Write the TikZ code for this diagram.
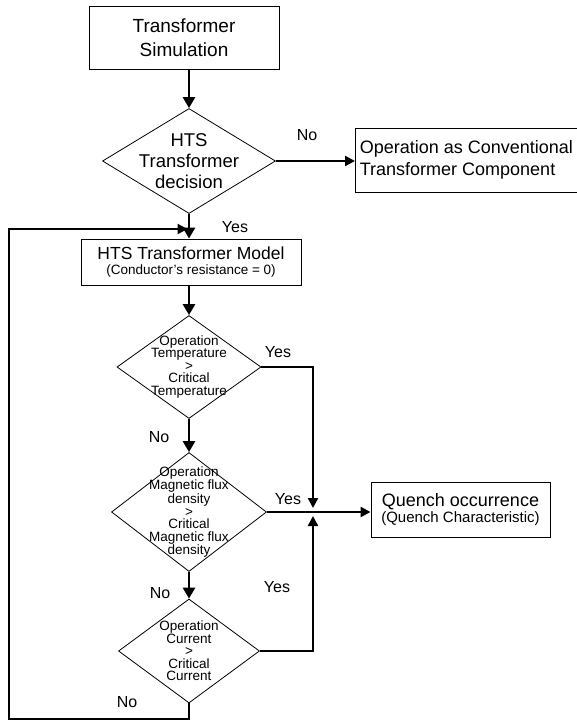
\documentclass[tikz,border=0pt]{standalone}
\usepackage{fontspec}
\setmainfont{Liberation Sans}
\usetikzlibrary{shapes.geometric,arrows.meta}

\begin{document}
\begin{tikzpicture}[x=1pt,y=-1pt,
    box/.style={draw, line width=0.9pt, inner sep=0pt, align=center},
    dia/.style={draw, diamond, line width=0.8pt, inner sep=0pt},
    big/.style={font=\fontsize{18}{22}\selectfont},
    small/.style={font=\fontsize{13.5}{12.5}\selectfont, align=center, inner sep=0pt},
    lbl/.style={font=\fontsize{16}{19}\selectfont, inner sep=0pt},
    arr/.style={line width=2.8pt, -{Triangle[length=11pt,width=12pt]}},
    lnk/.style={line width=2.3pt, -{Triangle[length=10pt,width=10pt]}}]
    \useasboundingbox (0,0) rectangle (577,726);
    % boxes
    \node[box, font=\fontsize{19}{24}\selectfont, minimum width=190pt, minimum height=63pt] (sim) at (184,37.5) {Transformer\\Simulation};
    \node[box, big, align=left, minimum width=222pt, minimum height=64pt, anchor=west] (conv) at (355,160) {Operation as Conventional\\Transformer Component};
    \node[box, minimum width=220pt, minimum height=46pt] (model) at (191,262)
        {\fontsize{17.5}{16}\selectfont HTS Transformer Model\\[3pt]\fontsize{13.5}{16}\selectfont (Conductor's resistance = 0)};
    \node[box, minimum width=179pt, minimum height=55pt] (quench) at (460.5,509.5)
        {\fontsize{18}{18}\selectfont Quench occurrence\\[1pt]\fontsize{15}{18}\selectfont (Quench Characteristic)};
    % decisions
    \node[dia, minimum width=173pt, minimum height=105pt] (hts) at (189,161) {};
    \node[dia, minimum width=144pt, minimum height=103pt] (temp) at (189,367) {};
    \node[dia, minimum width=155pt, minimum height=119pt] (flux) at (189,512) {};
    \node[dia, minimum width=141pt, minimum height=104pt] (curr) at (189,651) {};
    \node[align=center, inner sep=0pt, font=\fontsize{18.5}{21}\selectfont] (htstxt) at (hts) {HTS\\Transformer\\decision};
    \node[small] (temptxt) at (temp) {Operation\\Temperature\\>\\Critical\\Temperature};
    \node[small] (fluxtxt) at (flux) {Operation\\Magnetic flux\\density\\>\\Critical\\Magnetic flux\\density};
    \node[small] (currtxt) at (curr) {Operation\\Current\\>\\Critical\\Current};
    % labels
    \node[lbl] (no1) at (307,135) {No};
    \node[lbl] (yes1) at (235,227) {Yes};
    \node[lbl] (yes2) at (278,352) {Yes};
    \node[lbl] (no2) at (159,437) {No};
    \node[lbl] (yes3) at (288,499) {Yes};
    \node[lbl] (yes4) at (277,587) {Yes};
    \node[lbl] (no3) at (160,593) {No};
    \node[lbl] (no4) at (127,702) {No};
    % connectors
    \coordinate (join) at (313,512);
    \coordinate (back) at (189,229);
    \coordinate (low) at (9,719);
    \draw[arr] (sim.south -| hts.north) -- (hts.north);
    \draw[lnk] (hts.east) -- (hts.east -| conv.west);
    \draw[arr] (hts.south) -- (hts.south |- model.north);
    \draw[arr] (model.south -| temp.north) -- (temp.north);
    \draw[arr] (temp.south) -- (flux.north);
    \draw[arr] (flux.south) -- (curr.north);
    \draw[lnk] (flux.east) -- (flux.east -| quench.west);
    \draw[lnk] (temp.east) -| ([yshift=4pt]join);
    \draw[lnk] (curr.east) -| ([yshift=-4pt]join);
    \draw[lnk] (curr.south) -- (curr.south |- low) -- (low) -- (low |- back) -- ([xshift=-1.5pt]back);
\end{tikzpicture}
\end{document}
